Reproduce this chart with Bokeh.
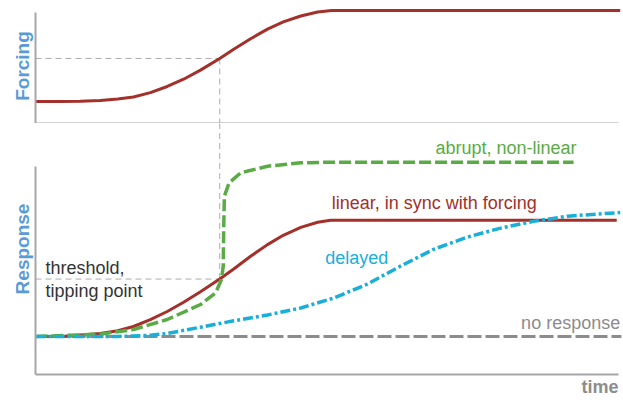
from bokeh.plotting import figure
from bokeh.layouts import column
from bokeh.models import Range1d, Title, FixedTicker
from bokeh.core.properties import value
from bokeh.embed import file_html
from bokeh.resources import INLINE

# ---------------- data ----------------
forcing_t = [0, 4.3, 7.7, 11.1, 14.1, 16.8, 19.7, 22.6, 25.4, 28.3, 31.6, 34.0,
             36.9, 39.8, 42.5, 45.5, 48.4, 50.8, 100.3]
forcing_v = [0, 0, 0.003, 0.012, 0.028, 0.05, 0.097, 0.165, 0.245, 0.345, 0.473,
             0.575, 0.69, 0.795, 0.875, 0.94, 0.984, 1.0, 1.0]

linear_t = [0, 5.0, 11.1, 14.1, 16.8, 19.7, 22.6, 25.4, 28.3, 31.6, 34.0, 36.9,
            39.8, 42.5, 45.5, 48.4, 50.6, 99.7]
linear_v = [0, 0.003, 0.026, 0.05, 0.086, 0.145, 0.215, 0.295, 0.385, 0.494, 0.58,
            0.69, 0.79, 0.87, 0.938, 0.982, 1.0, 1.0]

abrupt_t = [0, 11.1, 16.8, 22.6, 28.3, 30.9, 31.9, 32.2, 32.3, 32.4, 33.2, 35.2,
            39.8, 45.5, 51.1, 92.3]
abrupt_v = [0, 0.02, 0.06, 0.146, 0.275, 0.376, 0.49, 0.604, 0.977, 1.206, 1.321,
            1.408, 1.464, 1.494, 1.499, 1.499]

delayed_t = [0, 14.0, 19.7, 22.6, 28.3, 34.0, 39.8, 45.5, 51.1, 56.9, 62.6, 68.3,
             74.1, 79.8, 85.4, 91.3, 100.3]
delayed_v = [0, 0, 0.01, 0.026, 0.08, 0.135, 0.185, 0.245, 0.33, 0.45, 0.605,
             0.75, 0.855, 0.932, 0.99, 1.035, 1.066]

none_t = [0, 100.5]
none_v = [0, 0]

threshold_time = 31.6
threshold_forcing = 0.473
threshold_response = 0.494

labels_text = ["abrupt, non-linear", "linear, in sync with forcing", "delayed", "no response"]

# ---------------- styling ----------------
FONT = "Liberation Sans"
RED = "#a3302a"
GREEN = "#5aab46"
CYAN = "#1aafd8"
GRAY = "#8c8c8c"
AXIS = "#a6a6a6"
GUIDE = "#acacac"
BLUE_LABEL = "#5b9bd5"

x_range = Range1d(0, 100.69)


def style(p, ylabel, ybounds):
    p.grid.visible = False
    p.outline_line_color = None
    for ax in (p.xaxis[0], p.yaxis[0]):
        ax.ticker = FixedTicker(ticks=[])
        ax.major_tick_line_color = None
        ax.minor_tick_line_color = None
        ax.major_tick_out = 0
        ax.minor_tick_out = 0
        ax.major_label_text_font_size = "0px"
        ax.major_label_standoff = 0
        ax.axis_line_color = AXIS
        ax.axis_line_width = 2
    p.xaxis.bounds = (0, 100)
    p.yaxis.bounds = ybounds
    p.yaxis.axis_label = ylabel
    p.yaxis.axis_label_text_font = FONT
    p.yaxis.axis_label_text_font_style = "bold"
    p.yaxis.axis_label_text_font_size = "19px"
    p.yaxis.axis_label_text_color = BLUE_LABEL
    p.yaxis.axis_label_standoff = 3


# ---------------- top panel: forcing ----------------
p1 = figure(frame_width=587, frame_height=115, x_range=x_range,
            y_range=Range1d(-0.2418, 1.022), output_backend="svg",
            toolbar_location=None, min_border_left=35, min_border_right=0,
            min_border_top=8, min_border_bottom=0)
style(p1, "Forcing", (-0.2418, 0.978))

p1.segment(x0=[0, threshold_time], y0=[threshold_forcing, threshold_forcing],
           x1=[threshold_time, threshold_time], y1=[threshold_forcing, -0.2418],
           line_color=GUIDE, line_width=1, line_dash="6 4")
p1.line(forcing_t, forcing_v, line_color=RED, line_width=3, line_join="round")

# ---------------- bottom panel: response ----------------
p2 = figure(frame_width=587, frame_height=251, x_range=x_range,
            y_range=Range1d(-0.3267, 1.8315), output_backend="svg",
            toolbar_location=None, min_border_left=35, min_border_right=0,
            min_border_top=0, min_border_bottom=0)
style(p2, "Response", (-0.3267, 1.4617))

p2.segment(x0=[0, threshold_time], y0=[threshold_response, threshold_response],
           x1=[threshold_time, threshold_time], y1=[threshold_response, 1.8315],
           line_color=GUIDE, line_width=1, line_dash="6 4")

p2.line(none_t, none_v, line_color=GRAY, line_width=3, line_dash="14 4")
p2.line(linear_t, linear_v, line_color=RED, line_width=3, line_join="round")
p2.line(abrupt_t, abrupt_v, line_color=GREEN, line_width=3.5, line_dash="12 4",
        line_join="round")
p2.line(delayed_t, delayed_v, line_color=CYAN, line_width=3.5, line_dash="10 3 3 3",
        line_join="round")

label_x = [68.6, 50.8, 49.7, 83.3]
label_y = [1.617, 1.144, 0.675, 0.12]
label_colors = [GREEN, RED, CYAN, GRAY]
p2.text(x=label_x, y=label_y, text=labels_text, text_color=label_colors,
        text_font=value(FONT), text_font_size="18px", text_baseline="middle",
        text_align="left")

p2.text(x=[1.7, 1.7], y=[0.585, 0.387], text=["threshold,", "tipping point"],
        text_color="#333333", text_font=value(FONT), text_font_size="18px",
        text_baseline="middle", text_align="left")

p2.add_layout(Title(text="time", align="right", text_font=FONT,
                    text_font_size="18px", text_font_style="bold",
                    text_color=GRAY, offset=4, standoff=0), "below")

layout = column(p1, p2, spacing=0)
open("out.html", "w").write(file_html(layout, INLINE))
